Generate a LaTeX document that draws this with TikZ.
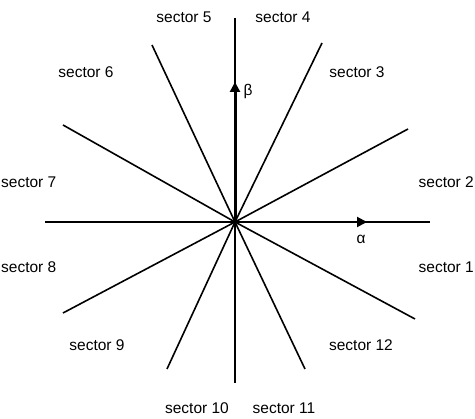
\documentclass[tikz,border=0pt]{standalone}
\usepackage{fontspec}
\setmainfont{Liberation Sans}
\usetikzlibrary{arrows.meta}
\begin{document}
\begin{tikzpicture}[x=1pt,y=-1pt,
  axis/.style={line width=1.8pt},
  ray/.style={line width=1.6pt},
  vec/.style={line width=3pt,-{Triangle[length=10pt,width=10pt]}},
  vecthin/.style={line width=2pt,-{Triangle[length=10pt,width=10pt]}},
  lab/.style={font=\fontsize{15.5}{17}\selectfont,inner sep=0pt}]
\useasboundingbox (0,0) rectangle (475,419);
\coordinate (O) at (235,222);
% axes
\coordinate (L) at (45,222);
\coordinate (R) at (430,222);
\coordinate (T) at (235,18);
\coordinate (B) at (235,383);
\draw[axis] (L) -- (R);
\draw[axis] (T) -- (B);
% rays
\coordinate (e1) at (152,45);
\coordinate (e2) at (322,43);
\coordinate (e3) at (63,125);
\coordinate (e4) at (408,129);
\coordinate (e5) at (63,313);
\coordinate (e6) at (415,319);
\coordinate (e7) at (167,369);
\coordinate (e8) at (305,369);
\foreach \e in {e1,e2,e3,e4,e5,e6,e7,e8} \draw[ray] (O) -- (\e);
% vectors
\coordinate (ta) at (367,222);
\coordinate (tb) at (235,82);
\draw[vecthin] (O) -- (ta);
\draw[vec] (O) -- (tb);
\node[lab] (alpha) at (361,239) {α};
\node[lab] (beta) at (248,91) {β};
% labels
\node[lab,anchor=east] (s1) at (474,267) {sector 1};
\node[lab,anchor=east] (s2) at (474,182) {sector 2};
\node[lab] (s3) at (357,72) {sector 3};
\node[lab] (s4) at (283,17) {sector 4};
\node[lab] (s5) at (184,17) {sector 5};
\node[lab,anchor=west] (s7) at (1,182) {sector 7};
\node[lab] (s6) at (86,72) {sector 6};
\node[lab,anchor=west] (s8) at (1,267) {sector 8};
\node[lab] (s9) at (97,345) {sector 9};
\node[lab] (s12) at (361,345) {sector 12};
\node[lab] (s10) at (197,408) {sector 10};
\node[lab] (s11) at (284,408) {sector 11};
\end{tikzpicture}
\end{document}
